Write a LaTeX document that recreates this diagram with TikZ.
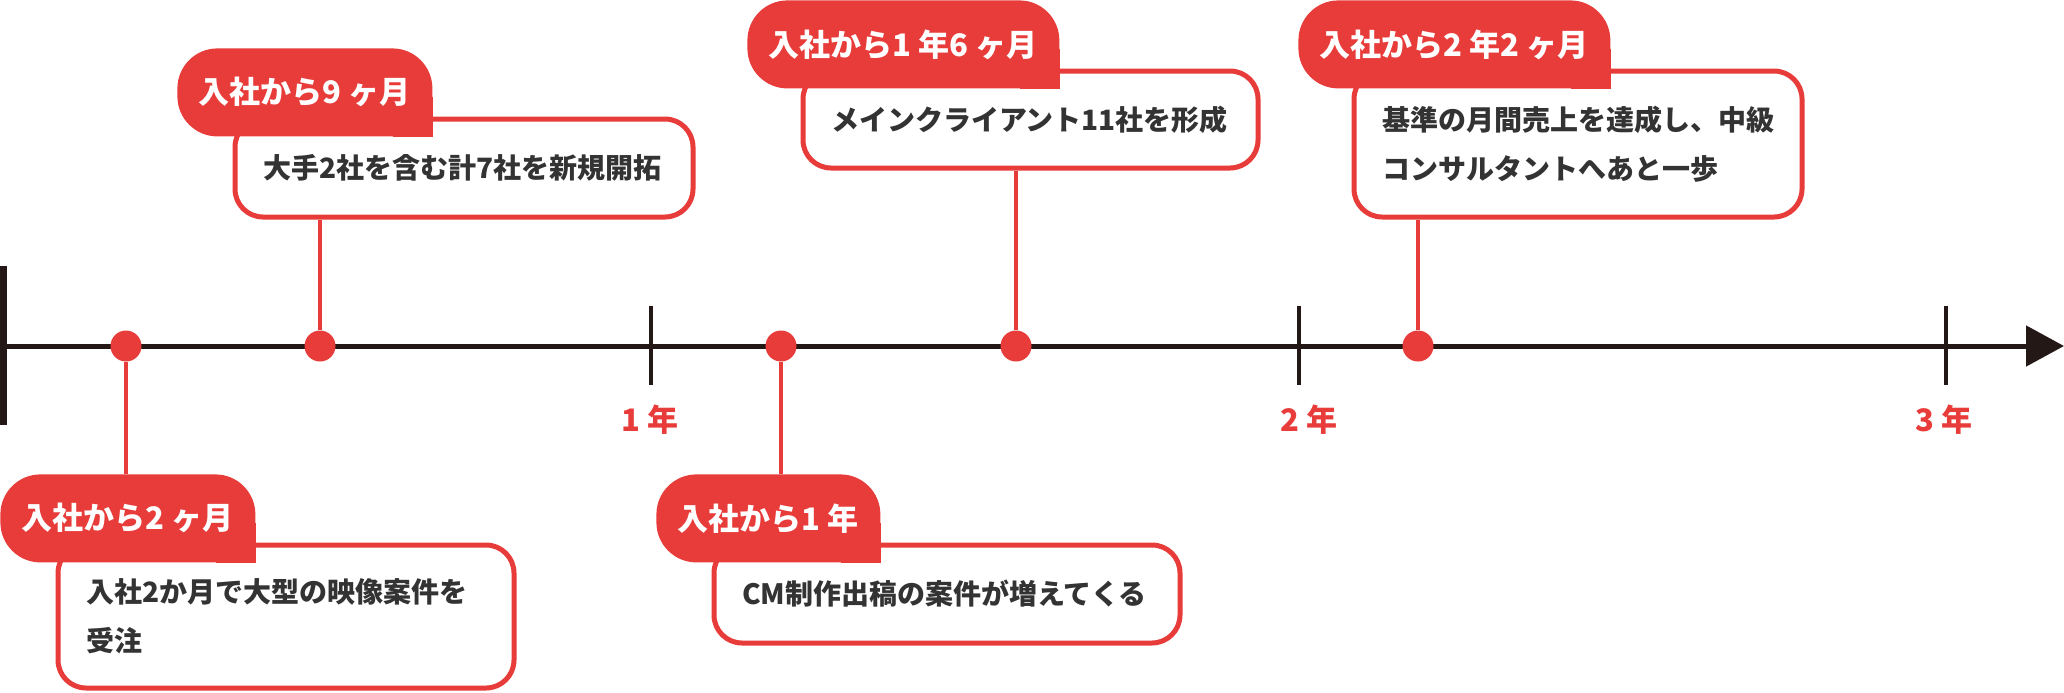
\documentclass[tikz,border=0pt]{standalone}
\usepackage{fontspec}
\setmainfont{Noto Sans CJK JP}
\usetikzlibrary{arrows.meta}
\definecolor{jpred}{HTML}{E83C3A}
\definecolor{axisblack}{HTML}{231815}
\definecolor{textgray}{HTML}{333333}
\pgfdeclarelayer{patch}
\pgfdeclarelayer{front}
\pgfsetlayers{main,patch,front}

\begin{document}
\begin{tikzpicture}[x=.5pt,y=-.5pt,
    dot/.style={circle,fill=jpred,inner sep=0pt,minimum size=15.5pt},
    yearlabel/.style={text=jpred,font=\bfseries\fontsize{15.5pt}{18pt}\selectfont},
    tab/.style={anchor=north west,fill=jpred,rounded corners=20pt,text=white,inner xsep=10.75pt,inner ysep=0pt,minimum height=44pt,font=\bfseries\fontsize{15.5pt}{18pt}\selectfont},
    card/.style={anchor=north west,draw=jpred,line width=2.5pt,fill=white,rounded corners=14pt,inner xsep=14pt,inner ysep=0pt,align=left,text=textgray,font=\bfseries\fontsize{14pt}{24.5pt}\selectfont},
    stem/.style={jpred,line width=2.25pt}]
  \useasboundingbox (0,0) rectangle (2064,692);
  \draw[axisblack,line width=2.5pt,-{Triangle[length=19pt,width=20pt]}] (0,346)--(2064,346);
  \draw[axisblack,line width=3.5pt] (3.5,266)--(3.5,425);
  \foreach \x/\lx [count=\n] in {651/650,1299/1309,1946/1944} {
    \draw[axisblack,line width=2pt] (\x,306)--(\x,385);
    \node[yearlabel] (y\n) at (\lx,420) {\n\ 年};
  }
  \foreach \x [count=\i] in {126,320,781,1016,1418} {
    \node[dot] (d\i) at (\x,346) {};
  }

  \node[card,text width=201pt,minimum height=49pt] (cA) at (232.5,116.5) {大手2社を含む計7社を新規開拓};
  \node[card,text width=200pt,minimum height=71.5pt] (cB) at (55.5,542.5) {入社2か月で大型の映像案件を\\受注};
  \node[card,text width=205pt,minimum height=49pt] (cC) at (711.5,542.5) {CM制作出稿の案件が増えてくる};
  \node[card,text width=199.5pt,minimum height=48.5pt] (cD) at (800.5,68.5) {メインクライアント11社を形成};
  \node[card,text width=196pt,minimum height=73pt] (cE) at (1351.5,68.5) {基準の月間売上を達成し、中級\\コンサルタントへあと一歩};

  \begin{pgfonlayer}{front}
    \node[tab] (tA) at (177,48) {入社から9 ヶ月};
    \node[tab] (tB) at (0,474) {入社から2 ヶ月};
    \node[tab] (tC) at (656,474) {入社から1 年};
    \node[tab] (tD) at (747,0) {入社から1 年6 ヶ月};
    \node[tab] (tE) at (1298,0) {入社から2 年2 ヶ月};
  \end{pgfonlayer}
  \begin{pgfonlayer}{patch}
    \foreach \t in {tA,tB,tC,tD,tE} {
      \fill[jpred] ([xshift=-20pt]\t.south east) rectangle ([yshift=20pt]\t.south east);
    }
  \end{pgfonlayer}

  \draw[stem] (d1) -- (d1 |- tB.north);
  \draw[stem] (d2) -- (d2 |- cA.south);
  \draw[stem] (d3) -- (d3 |- tC.north);
  \draw[stem] (d4) -- (d4 |- cD.south);
  \draw[stem] (d5) -- (d5 |- cE.south);
\end{tikzpicture}
\end{document}
